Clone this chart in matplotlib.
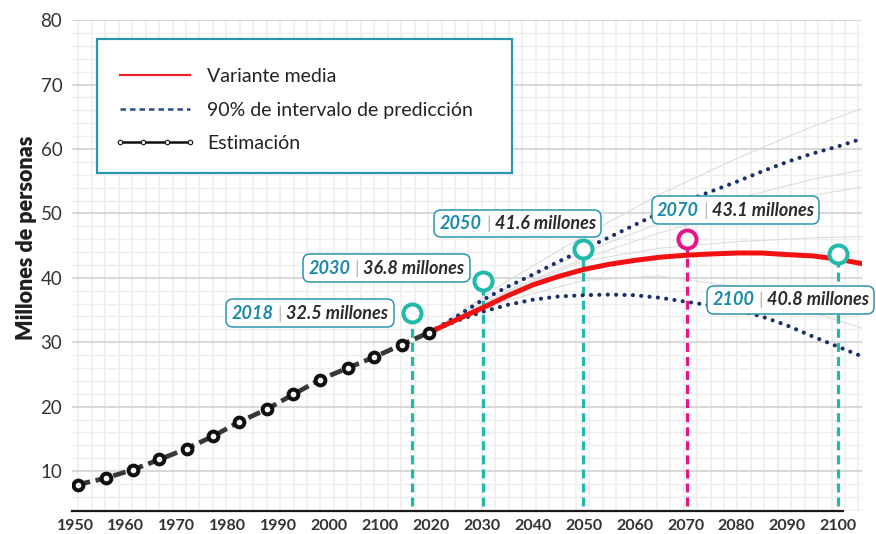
import numpy as np
import matplotlib
matplotlib.use("Agg")
import matplotlib.pyplot as plt
from matplotlib import font_manager
from matplotlib.lines import Line2D
from matplotlib.patches import Rectangle
from matplotlib.offsetbox import TextArea, HPacker, AnnotationBbox
from matplotlib.legend_handler import HandlerLine2D


def pick_font(names, default="DejaVu Sans"):
    for n in names:
        try:
            font_manager.findfont(font_manager.FontProperties(family=n), fallback_to_default=False)
            return n
        except Exception:
            pass
    return default


BASE = pick_font(["Lato", "Open Sans"])
NARROW = pick_font(["Liberation Sans Narrow", "Lato"])

# ---------------- data ----------------
est_years = [1950.5, 1956.0, 1961.3, 1966.6, 1972.0, 1977.1, 1982.2,
             1987.7, 1992.9, 1998.2, 2003.6, 2008.8, 2014.2, 2019.6]
est_values = [7.9, 8.9, 10.2, 11.8, 13.5, 15.4, 17.6,
              19.6, 21.9, 24.2, 26.0, 27.7, 29.6, 31.5]

proj_years = [2019.6, 2025, 2030, 2035, 2040, 2045, 2050, 2055, 2060,
              2065, 2070, 2075, 2080, 2085, 2090, 2095, 2100, 2104.7]
median_values = [31.5, 33.5, 35.3, 37.2, 38.9, 40.2, 41.3, 42.1, 42.7,
                 43.2, 43.5, 43.7, 43.85, 43.85, 43.6, 43.4, 42.9, 42.2]
upper_values = [31.5, 34.0, 36.5, 38.6, 40.5, 42.5, 44.4, 46.3, 48.2,
                50.1, 51.9, 53.4, 54.9, 56.5, 58.0, 59.3, 60.4, 61.6]
lower_values = [31.5, 33.3, 34.7, 35.8, 36.6, 37.1, 37.3, 37.4, 37.3,
                36.9, 36.3, 35.7, 35.0, 34.0, 32.6, 30.9, 29.3, 27.8]

traj_years = [2019.6, 2035, 2050, 2065, 2080, 2095, 2104.7]
traj_1 = [31.5, 39.5, 46.5, 53.0, 58.5, 63.5, 66.3]
traj_2 = [31.5, 38.5, 44.0, 48.5, 52.3, 55.3, 56.7]
traj_3 = [31.5, 38.0, 43.0, 47.0, 50.3, 52.8, 54.1]
traj_4 = [31.5, 37.8, 42.6, 44.6, 45.6, 46.2, 46.4]
traj_5 = [31.5, 36.5, 39.6, 40.3, 38.6, 34.6, 32.2]
trajectories = [traj_1, traj_2, traj_3, traj_4, traj_5]

ann_year_labels = ["2018", "2030", "2050", "2070", "2100"]
ann_value_labels = ["32.5 millones", "36.8 millones", "41.6 millones",
                    "43.1 millones", "40.8 millones"]
marker_x = [2016.2, 2030.1, 2049.8, 2070.2, 2099.9]
marker_y = [34.5, 39.5, 44.4, 46.0, 43.7]

x_tick_pos = [1950, 1960, 1970, 1980, 1990, 2000, 2010, 2020, 2030,
              2040, 2050, 2060, 2070, 2080, 2090, 2100]
x_tick_labels = ["1950", "1960", "1970", "1980", "1990", "2000", "2100", "2020",
                 "2030", "2040", "2050", "2060", "2070", "2080", "2090", "2100"]
y_ticks = [10, 20, 30, 40, 50, 60, 70, 80]

legend_labels = ["Variante media", "90% de intervalo de predicción", "Estimación"]

# ---------------- style ----------------
TEAL = "#22b9aa"
MAGENTA = "#e6168a"
BOXBLUE = "#2a95b0"
YEARBLUE = "#1a8aa8"
RED = "#f21010"
NAVY = "#1b2f6b"
DARK = "#2b2b2b"
marker_colors = [TEAL, TEAL, TEAL, MAGENTA, TEAL]
box_offsets = [(-102, 0), (-96, 13), (-65, 26), (49, 29), (-47, -46)]

W, H = 876, 534
fig = plt.figure(figsize=(W / 100, H / 100), dpi=100)
fig.patch.set_facecolor("white")
ax = fig.add_axes([72 / W, (H - 511) / H, (862 - 72) / W, (511 - 19.5) / H])
ax.set_xlim(1949.4, 2104.7)
ax.set_ylim(3.8, 80.1)

# grid
for yv in np.arange(4, 81, 2):
    major = (yv % 10 == 0)
    ax.axhline(yv, color="#d6d6d6" if major else "#efefef",
               lw=1.3 if major else 1.0, zorder=0.5 if major else 0.2)
for xv in np.arange(1950.65, 2105, 2.644):
    ax.axvline(xv, color="#eeeeee", lw=1.1, zorder=0.3)

# gray trajectories
for tr in trajectories:
    ax.plot(traj_years, tr, color="#dddddd", lw=0.8, zorder=1)

# vertical marker lines
for x, y, c in zip(marker_x, marker_y, marker_colors):
    ax.plot([x, x], [4.6, y], color=c, lw=2.3, dashes=(2.8, 1.6), zorder=2)

# prediction interval
for vals in (upper_values, lower_values):
    ax.plot(proj_years, vals, color=NAVY, lw=3.0,
            linestyle=(0, (0.01, 2.0)), dash_capstyle="round", zorder=3)

# median
ax.plot(proj_years, median_values, color=RED, lw=3.6, zorder=4,
        solid_capstyle="round")

# estimation
ax.plot(est_years, est_values, color="#383838", lw=3.4, dashes=(2.7, 1.2), zorder=5)
ax.plot(est_years, est_values, linestyle="none", marker="o", ms=7, mew=2.9,
        mec="#111111", mfc="white", zorder=6)

# markers
for x, y, c in zip(marker_x, marker_y, marker_colors):
    ax.plot([x], [y], marker="o", ms=13, mew=2.9, mec=c, mfc="white",
            zorder=7, clip_on=False)

# annotation boxes
for x, y, yl, vl, off in zip(marker_x, marker_y, ann_year_labels,
                             ann_value_labels, box_offsets):
    t1 = TextArea(yl, textprops=dict(color=YEARBLUE, fontsize=13, family=BASE,
                                     weight="bold", style="italic"))
    t2 = TextArea("|", textprops=dict(color="#b5b5b5", fontsize=13, family=BASE))
    t3 = TextArea(vl, textprops=dict(color=DARK, fontsize=13, family=BASE,
                                     weight="bold", style="italic"))
    pack = HPacker(children=[t1, t2, t3], align="baseline", pad=0, sep=3)
    ab = AnnotationBbox(pack, (x, y), xybox=off, xycoords="data",
                        boxcoords="offset pixels", box_alignment=(0.5, 0.5),
                        frameon=True, pad=0.3, annotation_clip=False,
                        bboxprops=dict(boxstyle="round,pad=0.38,rounding_size=0.5",
                                       edgecolor=BOXBLUE, facecolor="white", lw=1.1))
    ab.set_zorder(8)
    ax.add_artist(ab)

# axes styling
for s in ["left", "right", "top"]:
    ax.spines[s].set_visible(False)
ax.spines["bottom"].set_color("#1a1a1a")
ax.spines["bottom"].set_linewidth(1.6)
ax.spines["bottom"].set_bounds(1949.4, 2101)
ax.spines["bottom"].set_zorder(9)
ax.set_xticks(x_tick_pos)
ax.set_xticklabels(x_tick_labels, family=BASE, weight="bold",
                   fontsize=11.5, color="#333333")
ax.set_yticks(y_ticks)
ax.set_yticklabels([str(v) for v in y_ticks], family=BASE, fontsize=13.5,
                   color="#333333")
ax.tick_params(axis="both", length=0)
ax.tick_params(axis="x", pad=6)
ax.tick_params(axis="y", pad=7)
ax.set_facecolor("white")

fig.text(27 / W, 1 - 238 / H, "Millones de personas", rotation=90,
         ha="center", va="center", family=BASE, weight="heavy",
         fontsize=15.5, color="#1e1e1e")

# legend
frame = Rectangle((97 / W, 1 - 173 / H), 415 / W, 134 / H,
                  transform=fig.transFigure, facecolor="white",
                  edgecolor=BOXBLUE, lw=1.6, zorder=4)
fig.add_artist(frame)
h_med = Line2D([], [], color="#e8202a", lw=1.6)
h_int = Line2D([], [], color="#2a4a8a", lw=1.8, dashes=(2.2, 1.6))
h_est = Line2D([], [], color="#111111", lw=1.8, marker="o", ms=3.2, mfc="white",
               mew=0.8, markevery=[1, 2])
handles = [h_med, h_int, h_est]
leg = fig.legend(handles, legend_labels, loc="upper left",
                 bbox_to_anchor=(120 / W, 1 - 68 / H), bbox_transform=fig.transFigure,
                 frameon=False, borderpad=0, borderaxespad=0,
                 handlelength=3.6, handletextpad=0.87, labelspacing=0.85,
                 handler_map={h_med: HandlerLine2D(numpoints=2, marker_pad=0),
                              h_int: HandlerLine2D(numpoints=2, marker_pad=0),
                              h_est: HandlerLine2D(numpoints=4, marker_pad=0)},
                 prop=dict(family=NARROW, size=14))
for t in leg.get_texts():
    t.set_color("#222222")
leg.set_zorder(5)

fig.savefig("out.png", dpi=100, facecolor="white")
